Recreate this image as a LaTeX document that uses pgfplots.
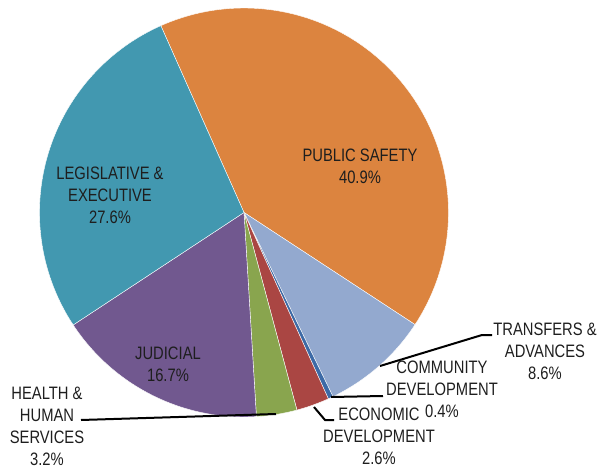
\documentclass[border=0pt]{standalone}
\usepackage{pgfplots}
\pgfplotsset{compat=1.18}
\usepackage{fontspec}
\setmainfont{Liberation Sans}[FakeStretch=0.82]
\definecolor{cPS}{RGB}{220,132,63}
\definecolor{cLE}{RGB}{66,152,176}
\definecolor{cJU}{RGB}{113,88,143}
\definecolor{cHH}{RGB}{137,165,78}
\definecolor{cED}{RGB}{170,70,67}
\definecolor{cCD}{RGB}{61,106,166}
\definecolor{cTA}{RGB}{147,169,207}
\definecolor{txt}{RGB}{30,30,30}
\tikzset{lbl/.style={font=\fontsize{13.5}{16.5}\selectfont, text=txt, align=center, inner sep=0pt}}
\begin{document}
\begin{tikzpicture}
% shares in percent, clockwise from the start angle
\pgfmathsetmacro\aA{114}
\pgfmathsetmacro\aB{\aA-40.9*3.6}% Public safety
\pgfmathsetmacro\aC{\aB-8.6*3.6}% Transfers & advances
\pgfmathsetmacro\aD{\aC-0.4*3.6}% Community development
\pgfmathsetmacro\aE{\aD-2.6*3.6}% Economic development
\pgfmathsetmacro\aF{\aE-3.2*3.6}% Health & human services
\pgfmathsetmacro\aG{\aF-16.7*3.6}% Judicial
\pgfmathsetmacro\aH{\aG-27.6*3.6}% Legislative & executive
\begin{axis}[
  scale only axis, width=450pt, height=350.25pt,
  xmin=0, xmax=600, ymin=0, ymax=467, y dir=reverse,
  hide axis, clip=false,
]
\pgfplotsset{pie/.style={draw=white, line width=0.3pt, samples=120, variable=\t}}
\addplot[pie, fill=cPS, domain=\aB:\aA] ({244+204.5*cos(\t)},{212.5-204.5*sin(\t)}) -- (244,212.5) -- cycle;
\addplot[pie, fill=cTA, domain=\aC:\aB] ({244+204.5*cos(\t)},{212.5-204.5*sin(\t)}) -- (244,212.5) -- cycle;
\addplot[pie, fill=cCD, domain=\aD:\aC] ({244+204.5*cos(\t)},{212.5-204.5*sin(\t)}) -- (244,212.5) -- cycle;
\addplot[pie, fill=cED, domain=\aE:\aD] ({244+204.5*cos(\t)},{212.5-204.5*sin(\t)}) -- (244,212.5) -- cycle;
\addplot[pie, fill=cHH, domain=\aF:\aE] ({244+204.5*cos(\t)},{212.5-204.5*sin(\t)}) -- (244,212.5) -- cycle;
\addplot[pie, fill=cJU, domain=\aG:\aF] ({244+204.5*cos(\t)},{212.5-204.5*sin(\t)}) -- (244,212.5) -- cycle;
\addplot[pie, fill=cLE, domain=\aH:\aG] ({244+204.5*cos(\t)},{212.5-204.5*sin(\t)}) -- (244,212.5) -- cycle;
% leader lines
\addplot[black, line width=1.5pt] coordinates {(380,366) (482,335) (492,335)};
\addplot[black, line width=1.5pt] coordinates {(331,397) (383,396)};
\addplot[black, line width=1.5pt] coordinates {(314,407) (325,420) (334,420)};
\addplot[black, line width=1.5pt] coordinates {(276,414) (81,420)};
% labels
\node[lbl] at (360,166) {PUBLIC SAFETY\\40.9\%};
\node[lbl] at (110,195) {LEGISLATIVE \&\\EXECUTIVE\\27.6\%};
\node[lbl] at (168,364) {JUDICIAL\\16.7\%};
\node[lbl] at (545,351) {TRANSFERS \&\\ADVANCES\\8.6\%};
\node[lbl] at (442,389) {COMMUNITY\\DEVELOPMENT\\0.4\%};
\node[lbl] at (379,436) {ECONOMIC\\DEVELOPMENT\\2.6\%};
\node[lbl] at (47,426) {HEALTH \&\\HUMAN\\SERVICES\\3.2\%};
\end{axis}
\pgfresetboundingbox
\path[use as bounding box] (current axis.south west) rectangle (current axis.north east);
\end{tikzpicture}
\end{document}
